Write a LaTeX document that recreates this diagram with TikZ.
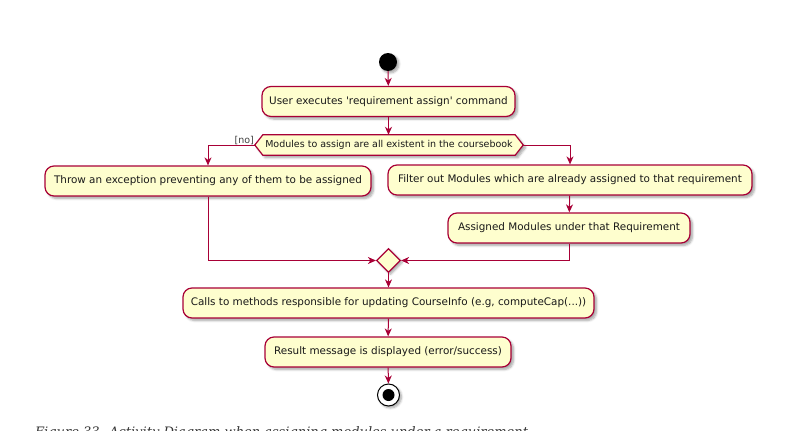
\documentclass[tikz,border=0pt]{standalone}
\usepackage{fontspec}
\setmainfont{DejaVu Sans}
\newfontfamily\umlfont{DejaVu Sans}
\newfontfamily\capfont{DejaVu Serif}
\usetikzlibrary{arrows.meta,shapes.geometric,shadows.blur}
\definecolor{umlfill}{HTML}{FEFECE}
\definecolor{umlline}{HTML}{A80036}
\tikzset{
  act/.style={draw=umlline, fill=umlfill, line width=1.2pt, rounded corners=9pt,
    minimum height=30pt, inner xsep=0pt, font=\umlfont\fontsize{10.4}{12}\selectfont, text=black!90,
    blur shadow={shadow xshift=2.5pt, shadow yshift=-2.5pt, shadow blur steps=6, shadow opacity=35}},
  flow/.style={draw=umlline, line width=1pt, -{Stealth[length=8pt,width=7pt,inset=2.5pt]}},
}
\begin{document}
\begin{tikzpicture}[x=1pt,y=-1pt]
\useasboundingbox (0,0) rectangle (793,431);
% start
\node[circle, fill=black, minimum size=18pt, inner sep=0pt,
  blur shadow={shadow xshift=2pt, shadow yshift=-2pt, shadow blur steps=6, shadow opacity=35}] (start) at (388,62) {};
\node[act, minimum width=253pt] (b1) at (388.5,101.5) {User executes 'requirement assign' command};
% decision hexagon
\node[minimum width=268pt, minimum height=20pt, inner sep=0pt] (dec) at (389,145) {};
\path[draw=umlline, fill=umlfill, line width=1.2pt,
  blur shadow={shadow xshift=2.5pt, shadow yshift=-2.5pt, shadow blur steps=6, shadow opacity=35}]
  (dec.west) -- ([xshift=8pt]dec.north west) -- ([xshift=-8pt]dec.north east) -- (dec.east)
  -- ([xshift=-8pt]dec.south east) -- ([xshift=8pt]dec.south west) -- cycle;
\node[font=\umlfont\fontsize{9.5}{10}\selectfont, text=black!90, inner sep=0pt] (dectext) at (dec.center) {Modules to assign are all existent in the coursebook};
\node[font=\umlfont\fontsize{9.5}{10}\selectfont, text=black!75, inner sep=0pt, anchor=south east] (no) at (254,145) {[no]};
% branches
\node[act, minimum width=326pt] (left) at (208,181) {Throw an exception preventing any of them to be assigned};
\node[act, minimum width=364pt] (right) at (570,180) {Filter out Modules which are already assigned to that requirement};
\node[act, minimum width=242pt] (assigned) at (569,228) {Assigned Modules under that Requirement};
% merge
\node[diamond, draw=umlline, fill=umlfill, line width=1.2pt, minimum size=24pt, inner sep=0pt,
  blur shadow={shadow xshift=2pt, shadow yshift=-2pt, shadow blur steps=6, shadow opacity=35}] (merge) at (388.5,260.5) {};
\node[act, minimum width=411pt] (calls) at (388.5,303) {Calls to methods responsible for updating CourseInfo (e.g, computeCap(...))};
\node[act, minimum width=246pt] (result) at (388,352) {Result message is displayed (error/success)};
% end
\node[circle, draw=black, fill=white, line width=1pt, minimum size=22pt, inner sep=0pt,
  blur shadow={shadow xshift=2pt, shadow yshift=-2pt, shadow blur steps=6, shadow opacity=35}] (endo) at (388.5,395) {};
\node[circle, fill=black, minimum size=12pt, inner sep=0pt] (endi) at (endo.center) {};
% connectors
\draw[flow] (start) -- (b1);
\draw[flow] (b1) -- (b1 |- dec.north);
\draw[flow] (dec.west) -| (left.north);
\draw[flow] (dec.east) -| (right.north);
\draw[flow] (right) -- (assigned);
\draw[flow] (left.south) |- (merge.west);
\draw[flow] (assigned.south) |- (merge.east);
\draw[flow] (merge) -- (calls);
\draw[flow] (calls) -- (result);
\draw[flow] (result) -- (endo);
% caption
\node[font=\capfont\itshape\fontsize{13}{16}\selectfont, text=black!80, anchor=base west, inner sep=0pt] (cap) at (35,436) {Figure 33. Activity Diagram when assigning modules under a requirement};
\end{tikzpicture}
\end{document}
